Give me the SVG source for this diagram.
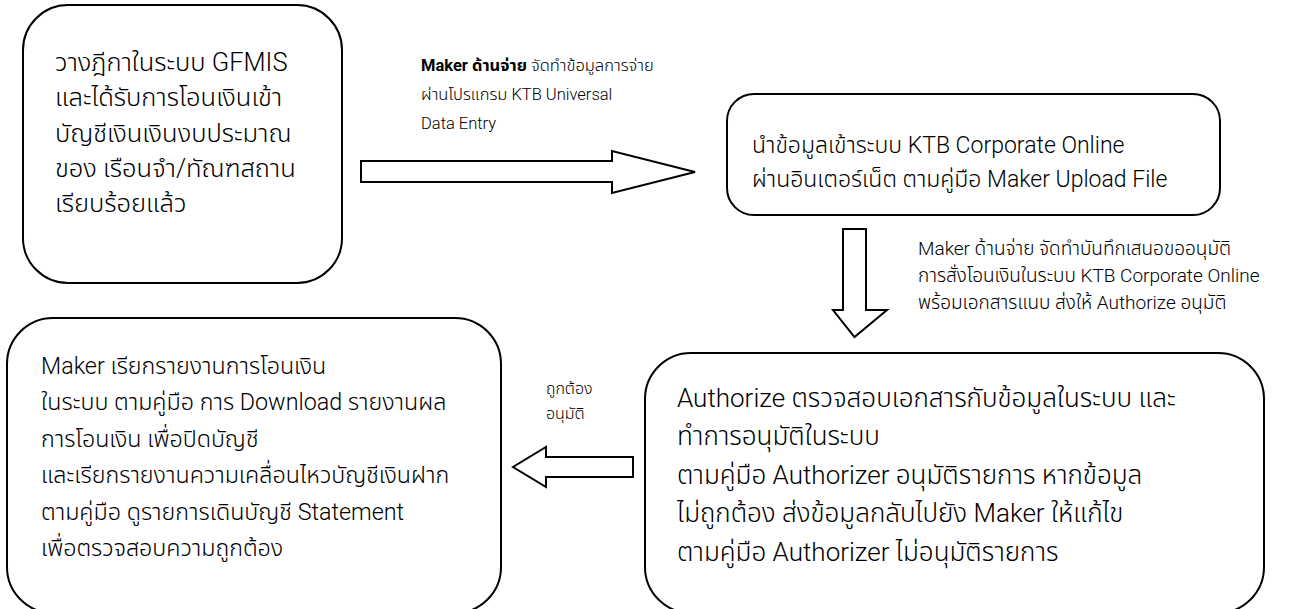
<svg xmlns="http://www.w3.org/2000/svg" width="1292" height="609" viewBox="0 0 1292 609">
<style>
.box{fill:#fff;stroke:#000;stroke-width:2}
.arr{fill:#fff;stroke:#000;stroke-width:2;stroke-linejoin:miter}
.t{font-family:Roboto,"Noto Sans Thai","Liberation Sans",sans-serif;fill:#000;font-weight:300}
.n1{font-size:25.5px}
.n2{font-size:23px}
.n3{font-size:23.3px}
.n4{font-size:26px}
.lt{font-size:16.5px}
.ld{font-size:19px}
.ll{font-size:16px}
.b{font-weight:bold}
</style>
<rect width="1292" height="609" fill="#fff"/>
<g id="connectors">
<path class="arr" d="M361,161 H612 V151 L695,172 L612,193 V182 H361 Z"/>
<path class="arr" d="M843,229 H866 V310 H887 L854.5,337 L833,310 H843 Z"/>
<path class="arr" d="M633,457 H546 V447 L513,467 L546,487 V477 H633 Z"/>
</g>
<g id="label-top">
<text class="t lt" x="421" y="71"><tspan class="b">Maker ด้านจ่าย</tspan> จัดทำข้อมูลการจ่าย</text>
<text class="t lt" x="421" y="100">ผ่านโปรแกรม KTB Universal</text>
<text class="t lt" x="421" y="129">Data Entry</text>
</g>
<g id="label-down">
<text class="t ld" x="918" y="255">Maker ด้านจ่าย จัดทำบันทึกเสนอขออนุมัติ</text>
<text class="t ld" x="918" y="282">การสั่งโอนเงินในระบบ KTB Corporate Online</text>
<text class="t ld" x="918" y="309">พร้อมเอกสารแนบ ส่งให้ Authorize อนุมัติ</text>
</g>
<g id="label-left">
<text class="t ll" x="546" y="394">ถูกต้อง</text>
<text class="t ll" x="546" y="419">อนุมัติ</text>
</g>
<g id="node1">
<rect class="box" x="23" y="5" width="319" height="278" rx="45"/>
<text class="t n1" x="55" y="71">วางฎีกาในระบบ GFMIS</text>
<text class="t n1" x="55" y="106">และได้รับการโอนเงินเข้า</text>
<text class="t n1" x="55" y="142">บัญชีเงินเงินงบประมาณ</text>
<text class="t n1" x="55" y="177">ของ เรือนจำ/ทัณฑสถาน</text>
<text class="t n1" x="55" y="212">เรียบร้อยแล้ว</text>
</g>
<g id="node2">
<rect class="box" x="727" y="94" width="493" height="121" rx="27"/>
<text class="t n2" x="752" y="153">นำข้อมูลเข้าระบบ KTB Corporate Online</text>
<text class="t n2" x="752" y="187">ผ่านอินเตอร์เน็ต ตามคู่มือ Maker Upload File</text>
</g>
<g id="node3">
<rect class="box" x="7" y="318" width="494" height="295" rx="46"/>
<text class="t n3" x="41" y="374">Maker เรียกรายงานการโอนเงิน</text>
<text class="t n3" x="41" y="410">ในระบบ ตามคู่มือ การ Download รายงานผล</text>
<text class="t n3" x="41" y="447">การโอนเงิน เพื่อปิดบัญชี</text>
<text class="t n3" x="41" y="483">และเรียกรายงานความเคลื่อนไหวบัญชีเงินฝาก</text>
<text class="t n3" x="41" y="520">ตามคู่มือ ดูรายการเดินบัญชี Statement</text>
<text class="t n3" x="41" y="556">เพื่อตรวจสอบความถูกต้อง</text>
</g>
<g id="node4">
<rect class="box" x="645" y="353" width="619" height="260" rx="46"/>
<text class="t n4" x="677" y="407">Authorize ตรวจสอบเอกสารกับข้อมูลในระบบ และ</text>
<text class="t n4" x="677" y="445">ทำการอนุมัติในระบบ</text>
<text class="t n4" x="677" y="484">ตามคู่มือ Authorizer อนุมัติรายการ หากข้อมูล</text>
<text class="t n4" x="677" y="522">ไม่ถูกต้อง ส่งข้อมูลกลับไปยัง Maker ให้แก้ไข</text>
<text class="t n4" x="677" y="561">ตามคู่มือ  Authorizer ไม่อนุมัติรายการ</text>
</g>
</svg>
